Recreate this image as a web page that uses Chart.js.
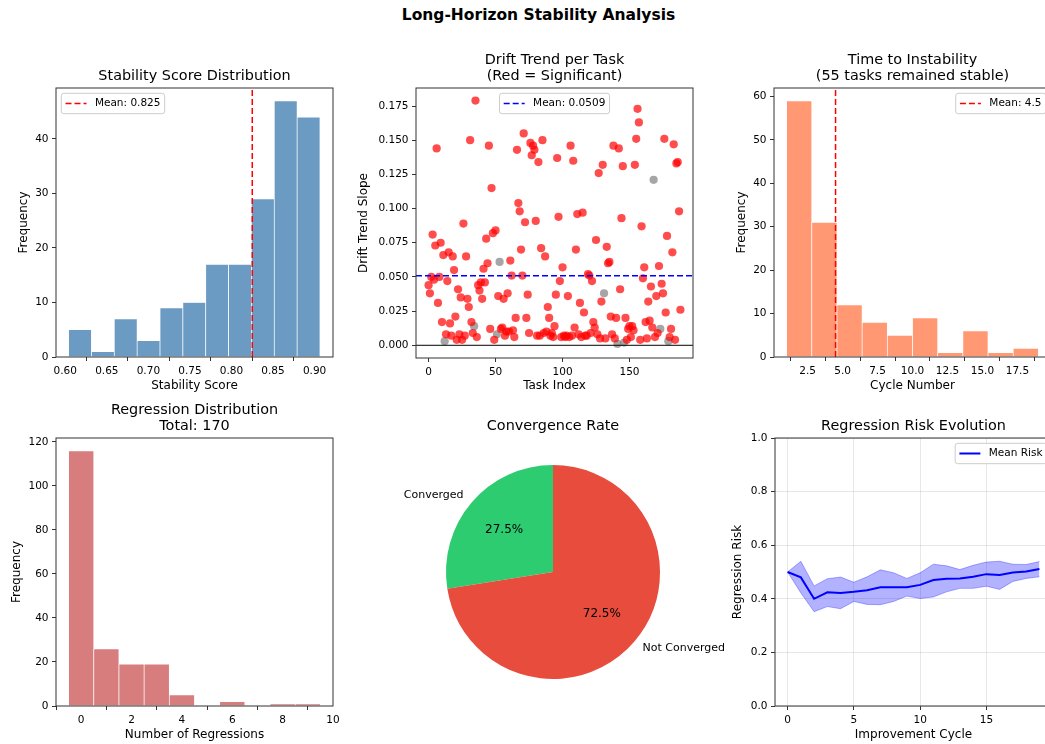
<!DOCTYPE html>
<html>
<head>
<meta charset="utf-8">
<title>Long-Horizon Stability Analysis</title>
<script src="https://cdn.jsdelivr.net/npm/chart.js@4.4.1/dist/chart.umd.min.js"></script>
<style>
    html, body { margin: 0; padding: 0; background: #fff; }
    body { width: 1045px; height: 744px; position: relative; overflow: hidden; font-family: 'DejaVu Sans', sans-serif; }
    #suptitle { position: absolute; left: 16px; top: 5px; width: 1045px; text-align: center; font-weight: bold; font-size: 15.5px; line-height: 20px; color: #000; white-space: nowrap; }
    canvas { position: absolute; }
</style>
</head>
<body>
<div id="suptitle">Long-Horizon Stability Analysis</div>
<canvas id="stabilityChart" width="328" height="353" style="left:17px;top:40px"></canvas>
<canvas id="driftChart" width="348" height="353" style="left:357px;top:40px"></canvas>
<canvas id="instabilityChart" width="328" height="353" style="left:735px;top:40px"></canvas>
<canvas id="regressionChart" width="335" height="352" style="left:10px;top:390px"></canvas>
<canvas id="convergenceChart" width="386" height="316" style="left:360px;top:390px"></canvas>
<canvas id="riskChart" width="333" height="352" style="left:731px;top:390px"></canvas>
<script>
// --- data ---
const stabilityEdges = [0.604, 0.6315, 0.659, 0.6865, 0.714, 0.7415, 0.769, 0.7965, 0.824, 0.8515, 0.879, 0.9065];
const stabilityCounts = [5, 1, 7, 3, 9, 10, 17, 17, 29, 47, 44];
const stabilityMean = 0.825;
const stabilityTicksX = [0.60, 0.65, 0.70, 0.75, 0.80, 0.85, 0.90];
const stabilityTicksY = [0, 10, 20, 30, 40];

const driftSlopes = [
    0.044, 0.038, 0.050, 0.081, 0.048, 0.073, 0.144, 0.031, 0.050, 0.075,
    0.017, 0.066, 0.003, 0.008, 0.047, 0.068, 0.016, 0.007, 0.065, 0.055,
    0.021, 0.004, 0.041, 0.008, 0.035, 0.004, 0.089, 0.007, 0.065, 0.034,
    0.028, 0.150, 0.017, 0.009, 0.014, 0.179, 0.006, 0.044, 0.040, 0.046,
    0.034, 0.056, 0.046, 0.078, 0.060, 0.146, 0.012, 0.115, 0.082, 0.004,
    0.084, 0.008, 0.036, 0.061, 0.012, 0.013, 0.034, 0.007, 0.010, 0.038,
    0.010, 0.062, 0.051, 0.011, 0.006, 0.020, 0.143, 0.104, 0.098, 0.070,
    0.051, 0.155, 0.090, 0.020, 0.037, 0.009, 0.148, 0.139, 0.146, 0.143,
    0.091, 0.007, 0.134, 0.007, 0.071, 0.150, 0.009, 0.065, 0.010, 0.028,
    0.020, 0.007, 0.009, 0.006, 0.014, 0.037, 0.137, 0.094, 0.047, 0.006,
    0.057, 0.007, 0.006, 0.007, 0.036, 0.006, 0.146, 0.007, 0.135, 0.013,
    0.070, 0.096, 0.008, 0.031, 0.006, 0.097, 0.024, 0.007, 0.007, 0.052,
    0.051, 0.009, 0.047, 0.017, 0.013, 0.077, 0.008, 0.126, 0.005, 0.032,
    0.132, 0.038, 0.005, 0.072, 0.060, 0.061, 0.021, 0.008, 0.146, 0.005,
    0.020, 0.001, 0.144, 0.041, 0.093, 0.131, 0.002, 0.020, 0.004, 0.012,
    0.014, 0.006, 0.014, 0.011, 0.132, 0.151, 0.173, 0.163, 0.004, 0.087,
    0.049, 0.057, 0.017, 0.005, 0.032, 0.018, 0.043, 0.013, 0.121, 0.006,
    0.036, 0.009, 0.058, 0.012, 0.045, 0.038, 0.151, 0.024, 0.080, 0.003,
    0.006, 0.012, 0.068, 0.147, 0.004, 0.133, 0.134, 0.098, 0.026
];
// 1 = significant drift (red), 0 = not significant (grey)
const driftSignificant = [
    1, 1, 1, 1, 1, 1, 1, 1, 1, 1,  1, 1, 0, 1, 1, 1, 1, 1, 1, 1,
    1, 1, 1, 1, 1, 1, 1, 1, 1, 1,  1, 1, 1, 1, 0, 1, 1, 1, 1, 1,
    1, 1, 1, 1, 1, 1, 1, 1, 1, 1,  1, 0, 1, 0, 1, 1, 1, 1, 1, 1,
    1, 1, 1, 1, 1, 1, 1, 1, 1, 1,  1, 1, 1, 1, 1, 1, 1, 1, 1, 1,
    1, 1, 1, 1, 1, 1, 1, 1, 1, 1,  1, 1, 1, 1, 1, 1, 1, 1, 1, 1,
    1, 1, 1, 1, 1, 1, 1, 1, 1, 1,  1, 1, 1, 1, 1, 1, 1, 1, 1, 1,
    1, 1, 1, 1, 1, 1, 1, 1, 1, 1,  1, 0, 1, 1, 1, 1, 1, 1, 1, 1,
    1, 0, 1, 1, 1, 1, 0, 1, 1, 1,  1, 1, 1, 1, 1, 1, 1, 1, 1, 1,
    1, 1, 1, 1, 1, 1, 1, 1, 0, 1,  1, 1, 1, 0, 1, 1, 1, 1, 1, 0,
    1, 1, 1, 1, 1, 1, 1, 1, 1
];
const driftMean = 0.0509;
const driftTicksX = [0, 50, 100, 150];
const driftTicksY = [0, 0.025, 0.05, 0.075, 0.1, 0.125, 0.15, 0.175];

const instabilityEdges = [1, 2.8, 4.6, 6.4, 8.2, 10, 11.8, 13.6, 15.4, 17.2, 19];
const instabilityCounts = [59, 31, 12, 8, 5, 9, 1, 6, 1, 2];
const instabilityMean = 4.5;
const stableTasks = 55;
const instabilityTicksX = [2.5, 5, 7.5, 10, 12.5, 15, 17.5];
const instabilityTicksY = [0, 10, 20, 30, 40, 50, 60];

const regressionEdges = [-0.5, 0.5, 1.5, 2.5, 3.5, 4.5, 5.5, 6.5, 7.5, 8.5, 9.5];
const regressionCounts = [116, 26, 19, 19, 5, 0, 2, 0, 1, 1];
const regressionTotal = 170;
const regressionTicksX = [0, 2, 4, 6, 8, 10];
const regressionTicksY = [0, 20, 40, 60, 80, 100, 120];

const convergenceLabels = ['Converged', 'Not Converged'];
const convergenceCounts = [52, 137];
const convergenceColors = ['#2ecc71', '#e74c3c'];

const riskCycles = [0, 1, 2, 3, 4, 5, 6, 7, 8, 9, 10, 11, 12, 13, 14, 15, 16, 17, 18, 19];
const riskMean = [0.500, 0.480, 0.400, 0.424, 0.422, 0.426, 0.432, 0.443, 0.443, 0.443,
                  0.452, 0.470, 0.475, 0.476, 0.482, 0.492, 0.489, 0.498, 0.502, 0.511];
const riskUpper = [0.500, 0.540, 0.448, 0.475, 0.481, 0.462, 0.482, 0.508, 0.497, 0.476,
                   0.497, 0.529, 0.523, 0.509, 0.525, 0.537, 0.540, 0.529, 0.528, 0.539];
const riskLower = [0.500, 0.422, 0.352, 0.371, 0.363, 0.390, 0.379, 0.378, 0.390, 0.410,
                   0.401, 0.407, 0.426, 0.439, 0.439, 0.447, 0.435, 0.465, 0.476, 0.482];
const riskTicksX = [0, 5, 10, 15];
const riskTicksY = [0, 0.2, 0.4, 0.6, 0.8, 1.0];

// --- shared setup ---
Chart.defaults.font.family = "'DejaVu Sans', sans-serif";
Chart.defaults.font.size = 10.5;
Chart.defaults.color = '#000';
Chart.defaults.animation = false;
Chart.defaults.plugins.legend.display = false;
Chart.defaults.plugins.tooltip.enabled = false;

function linearAxis({ min, max, ticks, format, title, size, grid = false }) {
    return {
        type: 'linear',
        min, max,
        bounds: 'data',
        offset: false,
        afterBuildTicks: scale => { scale.ticks = ticks.map(value => ({ value })); },
        afterFit: scale => {
            if (scale.isHorizontal()) scale.height = size;
            else scale.width = size;
        },
        ticks: { autoSkip: false, maxRotation: 0, padding: 3.5, color: '#000', font: { size: 10.5 }, callback: v => format(v) },
        grid: { drawOnChartArea: grid, color: 'rgba(176,176,176,0.3)', lineWidth: 1, tickLength: 4, tickColor: '#333', tickWidth: 1 },
        border: { display: false },
        title: { display: true, text: title, color: '#000', font: { size: 12 }, padding: 0 }
    };
}

function chartTitle(text, padTop, padBottom) {
    return {
        display: true, text, fullSize: false, color: '#000',
        font: { size: 14.4, weight: 'normal', lineHeight: '16px' },
        padding: { top: padTop, bottom: padBottom }
    };
}

function histogram(edges, counts) {
    return counts.map((c, i) => ({ x: (edges[i] + edges[i + 1]) / 2, y: c }));
}

function barSet(edges, counts, color) {
    return {
        type: 'bar', data: histogram(edges, counts), backgroundColor: color,
        borderColor: '#fff', borderWidth: { left: 0.7, right: 0.7, top: 0.7, bottom: 0 },
        barPercentage: 1, categoryPercentage: 1, order: 2
    };
}

function guideLine(points, color, width, dash) {
    return {
        type: 'scatter', data: points, showLine: true, borderColor: color, borderWidth: width,
        borderDash: dash || [], pointRadius: 0, fill: false, order: 0
    };
}

const frame = {
    id: 'frame',
    afterDatasetsDraw(chart) {
        const { ctx, chartArea: a } = chart;
        ctx.save();
        ctx.strokeStyle = '#333';
        ctx.lineWidth = 1;
        ctx.strokeRect(a.left, a.top, a.right - a.left, a.bottom - a.top);
        ctx.restore();
    }
};

// matplotlib-style legend drawn inside the plot area
function innerLegend(loc, items) {
    return {
        id: 'innerLegend',
        afterDraw(chart) {
            const { ctx, chartArea: a } = chart;
            const pad = 4.2, handle = 21, gap = 8.4, row = 12, inset = 5.3;
            ctx.save();
            ctx.font = "10.5px 'DejaVu Sans', sans-serif";
            const textW = Math.max(...items.map(it => ctx.measureText(it.text).width));
            const w = pad + handle + gap + textW + pad;
            const h = items.length * row + 2 * pad;
            let x = a.left + inset;
            if (loc === 'upper center') x = (a.left + a.right) / 2 - w / 2;
            if (loc === 'upper right') x = a.right - inset - w;
            const y = a.top + inset, r = 2.5;

            ctx.beginPath();
            ctx.moveTo(x + r, y);
            ctx.arcTo(x + w, y, x + w, y + h, r);
            ctx.arcTo(x + w, y + h, x, y + h, r);
            ctx.arcTo(x, y + h, x, y, r);
            ctx.arcTo(x, y, x + w, y, r);
            ctx.closePath();
            ctx.fillStyle = 'rgba(255,255,255,0.8)';
            ctx.fill();
            ctx.strokeStyle = '#cccccc';
            ctx.lineWidth = 1;
            ctx.stroke();

            items.forEach((it, i) => {
                const cy = y + pad + row * i + row / 2;
                ctx.beginPath();
                ctx.setLineDash(it.dash || []);
                ctx.strokeStyle = it.color;
                ctx.lineWidth = it.width;
                ctx.moveTo(x + pad, cy);
                ctx.lineTo(x + pad + handle, cy);
                ctx.stroke();
                ctx.setLineDash([]);
                ctx.fillStyle = '#000';
                ctx.textBaseline = 'middle';
                ctx.textAlign = 'left';
                ctx.fillText(it.text, x + pad + handle + gap, cy);
            });
            ctx.restore();
        }
    };
}

const pieLabels = {
    id: 'pieLabels',
    afterDatasetsDraw(chart) {
        const { ctx } = chart;
        const meta = chart.getDatasetMeta(0);
        const values = chart.data.datasets[0].data;
        const total = values.reduce((s, v) => s + v, 0);
        ctx.save();
        ctx.fillStyle = '#000';
        ctx.textBaseline = 'middle';
        meta.data.forEach((arc, i) => {
            const { x, y, startAngle, endAngle, outerRadius } =
                arc.getProps(['x', 'y', 'startAngle', 'endAngle', 'outerRadius'], true);
            const mid = (startAngle + endAngle) / 2;
            const cos = Math.cos(mid), sin = Math.sin(mid);
            ctx.font = "11px 'DejaVu Sans', sans-serif";
            ctx.textAlign = cos < 0 ? 'right' : 'left';
            ctx.fillText(chart.data.labels[i], x + cos * outerRadius * 1.1, y + sin * outerRadius * 1.1);
            ctx.font = "12px 'DejaVu Sans', sans-serif";
            ctx.textAlign = 'center';
            ctx.fillText((values[i] / total * 100).toFixed(1) + '%', x + cos * outerRadius * 0.6, y + sin * outerRadius * 0.6);
        });
        ctx.restore();
    }
};

const fmt = d => v => v.toFixed(d);
const padRight = { left: 0, top: 0, right: 12, bottom: 0 };

// 1. stability score histogram
new Chart(document.getElementById('stabilityChart'), {
    type: 'bar',
    data: {
        datasets: [
            guideLine([{ x: stabilityMean, y: 0 }, { x: stabilityMean, y: 49.35 }], 'red', 1.5, [6, 3]),
            barSet(stabilityEdges, stabilityCounts, 'rgb(107,155,195)')
        ]
    },
    options: {
        responsive: false,
        layout: { padding: padRight },
        plugins: { title: chartTitle('Stability Score Distribution', 28, 4) },
        scales: {
            x: linearAxis({ min: 0.58885, max: 0.92215, ticks: stabilityTicksX, format: fmt(2), title: 'Stability Score', size: 36 }),
            y: linearAxis({ min: 0, max: 49.35, ticks: stabilityTicksY, format: fmt(0), title: 'Frequency', size: 39 })
        }
    },
    plugins: [frame, innerLegend('upper left', [{ text: `Mean: ${stabilityMean.toFixed(3)}`, color: 'red', width: 1.5, dash: [6, 3] }])]
});

// 2. drift trend scatter
const sigPoints = [], flatPoints = [];
driftSlopes.forEach((v, i) => (driftSignificant[i] ? sigPoints : flatPoints).push({ x: i, y: v }));
const driftXMin = -9.4, driftXMax = 197.4;

new Chart(document.getElementById('driftChart'), {
    type: 'scatter',
    data: {
        datasets: [
            guideLine([{ x: driftXMin, y: driftMean }, { x: driftXMax, y: driftMean }], 'blue', 1.5, [6, 3]),
            Object.assign(guideLine([{ x: driftXMin, y: 0 }, { x: driftXMax, y: 0 }], '#000', 1), { order: 1 }),
            { data: sigPoints, backgroundColor: 'rgba(255,0,0,0.7)', borderWidth: 0, pointRadius: 4.1, order: 2 },
            { data: flatPoints, backgroundColor: 'rgba(128,128,128,0.7)', borderWidth: 0, pointRadius: 4.1, order: 2 }
        ]
    },
    options: {
        responsive: false,
        layout: { padding: padRight },
        plugins: { title: chartTitle(['Drift Trend per Task', '(Red = Significant)'], 12.7, 3.3) },
        scales: {
            x: linearAxis({ min: driftXMin, max: driftXMax, ticks: driftTicksX, format: fmt(0), title: 'Task Index', size: 35 }),
            y: linearAxis({ min: -0.0093, max: 0.1882, ticks: driftTicksY, format: fmt(3), title: 'Drift Trend Slope', size: 59 })
        }
    },
    plugins: [frame, innerLegend('upper center', [{ text: `Mean: ${driftMean.toFixed(4)}`, color: 'blue', width: 1.5, dash: [6, 3] }])]
});

// 3. time to instability histogram
new Chart(document.getElementById('instabilityChart'), {
    type: 'bar',
    data: {
        datasets: [
            guideLine([{ x: instabilityMean, y: 0 }, { x: instabilityMean, y: 61.95 }], 'red', 1.5, [6, 3]),
            barSet(instabilityEdges, instabilityCounts, 'rgb(255,152,115)')
        ]
    },
    options: {
        responsive: false,
        layout: { padding: padRight },
        plugins: { title: chartTitle(['Time to Instability', `(${stableTasks} tasks remained stable)`], 12.7, 3.3) },
        scales: {
            x: linearAxis({ min: 0.1, max: 19.9, ticks: instabilityTicksX, format: fmt(1), title: 'Cycle Number', size: 36 }),
            y: linearAxis({ min: 0, max: 61.95, ticks: instabilityTicksY, format: fmt(0), title: 'Frequency', size: 39 })
        }
    },
    plugins: [frame, innerLegend('upper right', [{ text: `Mean: ${instabilityMean.toFixed(1)}`, color: 'red', width: 1.5, dash: [6, 3] }])]
});

// 4. regression count histogram
new Chart(document.getElementById('regressionChart'), {
    type: 'bar',
    data: { datasets: [barSet(regressionEdges, regressionCounts, 'rgb(215,125,125)')] },
    options: {
        responsive: false,
        layout: { padding: padRight },
        plugins: { title: chartTitle(['Regression Distribution', `Total: ${regressionTotal}`], 12, 4) },
        scales: {
            x: linearAxis({ min: -1, max: 10, ticks: regressionTicksX, format: fmt(0), title: 'Number of Regressions', size: 36 }),
            y: linearAxis({ min: 0, max: 121.8, ticks: regressionTicksY, format: fmt(0), title: 'Frequency', size: 46 })
        }
    },
    plugins: [frame]
});

// 5. convergence pie
const convergenceTotal = convergenceCounts.reduce((s, v) => s + v, 0);
new Chart(document.getElementById('convergenceChart'), {
    type: 'pie',
    data: {
        labels: convergenceLabels,
        datasets: [{ data: convergenceCounts, backgroundColor: convergenceColors, borderWidth: 0 }]
    },
    options: {
        responsive: false,
        radius: 107,
        rotation: -360 * convergenceCounts[0] / convergenceTotal,
        layout: { padding: 0 },
        plugins: { title: chartTitle('Convergence Rate', 28, 4) }
    },
    plugins: [pieLabels]
});

// 6. regression risk over cycles
const xy = ys => riskCycles.map((c, i) => ({ x: c, y: ys[i] }));
new Chart(document.getElementById('riskChart'), {
    type: 'line',
    data: {
        datasets: [
            { label: 'Mean Risk', data: xy(riskMean), borderColor: 'blue', borderWidth: 2, pointRadius: 0, fill: false, order: 0 },
            { data: xy(riskUpper), borderColor: 'rgba(0,0,255,0.3)', borderWidth: 1, pointRadius: 0,
              backgroundColor: 'rgba(0,0,255,0.3)', fill: '+1', order: 1 },
            { data: xy(riskLower), borderColor: 'rgba(0,0,255,0.3)', borderWidth: 1, pointRadius: 0, fill: false, order: 1 }
        ]
    },
    options: {
        responsive: false,
        layout: { padding: padRight },
        plugins: { title: chartTitle('Regression Risk Evolution', 28, 4) },
        scales: {
            x: linearAxis({ min: -0.95, max: 19.95, ticks: riskTicksX, format: fmt(0), title: 'Improvement Cycle', size: 36, grid: true }),
            y: linearAxis({ min: 0, max: 1, ticks: riskTicksY, format: fmt(1), title: 'Regression Risk', size: 44, grid: true })
        }
    },
    plugins: [frame, innerLegend('upper right', [{ text: 'Mean Risk', color: 'blue', width: 2 }])]
});
</script>
</body>
</html>
